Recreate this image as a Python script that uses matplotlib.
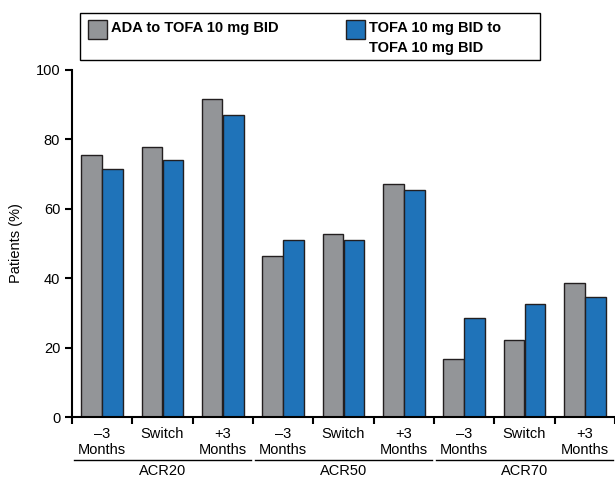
import matplotlib
matplotlib.use("Agg")
import matplotlib.pyplot as plt
from matplotlib.patches import Rectangle
from matplotlib.transforms import blended_transform_factory
import numpy as np

plt.rcParams['font.family'] = ['Liberation Sans', 'DejaVu Sans']

# data
groups = ['ACR20', 'ACR50', 'ACR70']
timepoints = ['\u20133\nMonths', 'Switch', '+3\nMonths']
ada_tofa = [75.5, 77.8, 91.6, 46.4, 52.7, 67.1, 16.7, 22.2, 38.6]
tofa_tofa = [71.5, 74.0, 87.0, 51.0, 51.0, 65.4, 28.5, 32.6, 34.6]
series_names = ['ADA to TOFA 10 mg BID', 'TOFA 10 mg BID to\nTOFA 10 mg BID']

gray = '#939598'
blue = '#1f73b9'
edge = '#231f20'

fig = plt.figure(figsize=(6.15, 4.78), dpi=100)
ax = fig.add_axes([0.117, 0.1276, 0.883, 0.726])

x = np.arange(len(ada_tofa))
w = 0.34
ax.bar(x - 0.175, ada_tofa, w, color=gray, edgecolor=edge, linewidth=1)
ax.bar(x + 0.175, tofa_tofa, w, color=blue, edgecolor=edge, linewidth=1)

ax.set_xlim(-0.5, len(x) - 0.5)
ax.set_ylim(0, 100)
ax.set_yticks([0, 20, 40, 60, 80, 100])
ax.tick_params(axis='y', labelsize=10.5, length=5, width=1.5)
ax.set_ylabel('Patients (%)', fontsize=10.5, labelpad=9)

ax.set_xticks(x)
ax.set_xticklabels(timepoints * len(groups), fontsize=10.5, linespacing=1.25)
ax.tick_params(axis='x', which='major', length=0, pad=7)
ax.set_xticks(np.arange(-0.5, len(x), 1.0), minor=True)
ax.tick_params(axis='x', which='minor', length=5, width=1.5, direction='out')

for s in ['top', 'right']:
    ax.spines[s].set_visible(False)
for s in ['left', 'bottom']:
    ax.spines[s].set_linewidth(1.5)

# group labels under the ticks
trans = blended_transform_factory(ax.transData, ax.transAxes)
for i, g in enumerate(groups):
    x0, x1 = 3 * i - 0.5, 3 * i + 2.5
    ax.plot([x0 + 0.04, x1 - 0.04], [-0.124, -0.124], color='black', lw=1,
            transform=trans, clip_on=False)
    ax.text((x0 + x1) / 2, -0.134, g, transform=trans, ha='center', va='top',
            fontsize=10.5)

# legend box, drawn by hand so the swatches sit at the top of each entry
fig.patches.append(Rectangle((0.130, 0.8745), 0.748, 0.0983, transform=fig.transFigure,
                             facecolor='white', edgecolor='black', lw=1))
for xs, col, name in zip([0.1425, 0.5625], [gray, blue], series_names):
    fig.patches.append(Rectangle((xs, 0.918), 0.031, 0.040, transform=fig.transFigure,
                                 facecolor=col, edgecolor=edge, lw=1))
    fig.text(xs + 0.0375, 0.956, name, ha='left', va='top', fontsize=10.5,
             fontweight='bold', linespacing=1.55)

fig.savefig('out.png', dpi=100)
